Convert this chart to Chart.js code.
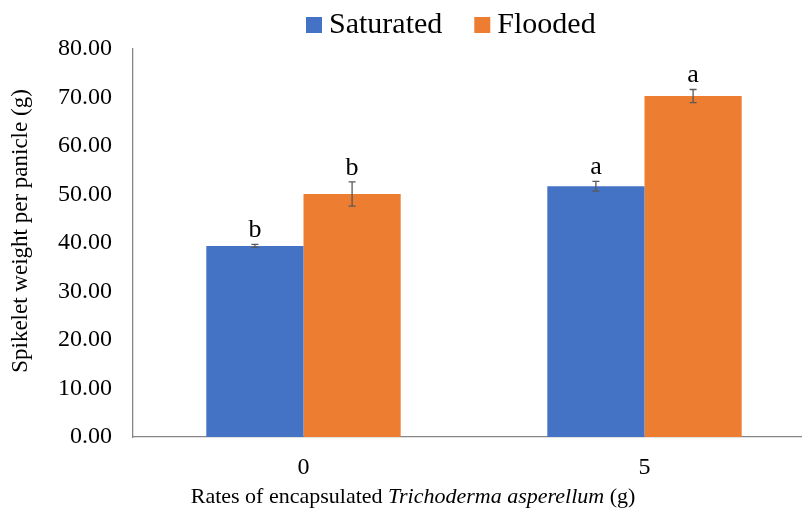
<!DOCTYPE html>
<html>
<head>
<meta charset="utf-8">
<script src="https://cdn.jsdelivr.net/npm/chart.js@4.4.1/dist/chart.umd.min.js"></script>
<style>
html, body { margin: 0; padding: 0; overflow: hidden; background: #fff; }
</style>
</head>
<body>
<canvas id="myChart" width="820" height="514"></canvas>
<script>
var categories = ["0", "5"];
var saturated = [39.4, 51.7];
var flooded = [50.1, 70.3];
var saturatedErr = [0.3, 1.0];
var floodedErr = [2.5, 1.35];
var saturatedLetters = ["b", "a"];
var floodedLetters = ["b", "a"];
var yMin = 0, yMax = 80, yStep = 10;

var serif = "'Liberation Serif', 'Times New Roman', serif";

// error bars + significance letters
var errorBars = {
	id: 'errorBars',
	afterDatasetsDraw: function (chart) {
		var ctx = chart.ctx;
		var y = chart.scales.y;
		chart.data.datasets.forEach(function (ds, i) {
			var meta = chart.getDatasetMeta(i);
			meta.data.forEach(function (bar, j) {
				var v = ds.data[j], e = ds.errors[j];
				var top = y.getPixelForValue(v + e);
				var bot = y.getPixelForValue(v - e);
				ctx.save();
				ctx.strokeStyle = '#595959';
				ctx.lineWidth = 1.3;
				ctx.beginPath();
				ctx.moveTo(bar.x, top); ctx.lineTo(bar.x, bot);
				ctx.moveTo(bar.x - 3.5, top); ctx.lineTo(bar.x + 3.5, top);
				ctx.moveTo(bar.x - 3.5, bot); ctx.lineTo(bar.x + 3.5, bot);
				ctx.stroke();
				ctx.fillStyle = '#000';
				ctx.font = '26px ' + serif;
				ctx.textAlign = 'center';
				ctx.textBaseline = 'alphabetic';
				ctx.fillText(ds.letters[j], bar.x, top - 7);
				ctx.restore();
			});
		});
	}
};

// legend, axis titles
var extras = {
	id: 'extras',
	afterDraw: function (chart) {
		var ctx = chart.ctx;
		ctx.save();
		ctx.fillStyle = '#000';
		ctx.textBaseline = 'middle';
		// legend
		ctx.font = '30px ' + serif;
		var x = 306;
		chart.data.datasets.forEach(function (ds) {
			ctx.fillStyle = ds.backgroundColor;
			ctx.fillRect(x, 17, 16, 16);
			ctx.fillStyle = '#000';
			ctx.textAlign = 'left';
			ctx.fillText(ds.label, x + 23, 25);
			x += 23 + ctx.measureText(ds.label).width + 32;
		});
		// y title
		ctx.font = '23px ' + serif;
		ctx.save();
		ctx.translate(21, 231);
		ctx.rotate(-Math.PI / 2);
		ctx.textAlign = 'center';
		ctx.fillText('Spikelet weight per panicle (g)', 0, 0);
		ctx.restore();
		// x title, mixed italic
		var parts = [['Rates of encapsulated ', ''], ['Trichoderma asperellum', 'italic '], [' (g)', '']];
		var total = 0;
		parts.forEach(function (p) { ctx.font = p[1] + '22px ' + serif; total += ctx.measureText(p[0]).width; });
		var cx = 413 - total / 2;
		ctx.textAlign = 'left';
		parts.forEach(function (p) {
			ctx.font = p[1] + '22px ' + serif;
			ctx.fillText(p[0], cx, 497);
			cx += ctx.measureText(p[0]).width;
		});
		ctx.restore();
	}
};

new Chart(document.getElementById("myChart"), {
	type: 'bar',
	data: {
		labels: categories,
		datasets: [
			{ label: "Saturated", data: saturated, errors: saturatedErr, letters: saturatedLetters, backgroundColor: "#4472C4" },
			{ label: "Flooded", data: flooded, errors: floodedErr, letters: floodedLetters, backgroundColor: "#ED7D31" }
		]
	},
	options: {
		responsive: false,
		animation: false,
		layout: { padding: { top: 49, right: 5, left: 0, bottom: 0 } },
		datasets: { bar: { categoryPercentage: 0.57, barPercentage: 1.0 } },
		plugins: { legend: { display: false }, tooltip: { enabled: false } },
		scales: {
			x: {
				grid: { display: false, drawTicks: false },
				border: { color: '#868686', width: 1.3 },
				ticks: { color: '#000', font: { family: serif, size: 24 }, padding: 16 },
				afterFit: function (s) { s.height = 77; }
			},
			y: {
				min: yMin, max: yMax,
				grid: { display: false, drawTicks: false },
				border: { color: '#868686', width: 1.3 },
				ticks: {
					stepSize: yStep, color: '#000', font: { family: serif, size: 24 }, padding: 21,
					callback: function (v) { return v.toFixed(2); }
				},
				afterFit: function (s) { s.width = 133; }
			}
		}
	},
	plugins: [errorBars, extras]
});
</script>
</body>
</html>
